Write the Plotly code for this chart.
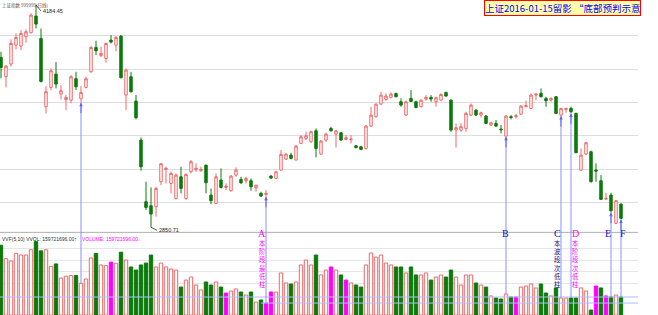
import plotly.graph_objects as go

# ---------------- data (daily, 2015-07-15 .. 2016-01-15, index 0..124) ----------------
opens = [3870, 3754, 3830, 3944, 3938, 3994, 4018, 4118, 3984, 3574,
         3690, 3770, 3650, 3618, 3614, 3742, 3622, 3690, 3784, 3930,
         3880, 3864, 3974, 3944, 3998, 3644, 3754, 3608, 3374, 3004,
         2980, 2974, 3124, 3198, 3114, 3024, 3154, 3024, 3184, 3196,
         3190, 3224, 3044, 2994, 3134, 3090, 3070, 3164, 3138, 3130,
         3130, 3088, 3054, 3048, 3158, 3144, 3194, 3260, 3284, 3254,
         3354, 3384, 3364, 3430, 3290, 3374, 3444, 3410, 3418, 3378,
         3376, 3340, 3334, 3324, 3458, 3514, 3590, 3618, 3630, 3654,
         3604, 3524, 3624, 3604, 3574, 3620, 3630, 3604, 3614, 3660,
         3614, 3434, 3434, 3444, 3524, 3554, 3524, 3518, 3464, 3474,
         3440, 3398, 3514, 3514, 3530, 3574, 3564, 3644, 3654, 3624,
         3614, 3634, 3524, 3558, 3564, 3534, 3194, 3290, 3304, 3194,
         3130, 3020, 3044, 2874, 2990]
highs = [3904, 3824, 3978, 4014, 4034, 4038, 4134, 4184.45, 4044, 3698,
         3804, 3842, 3704, 3644, 3764, 3784, 3698, 3754, 3938, 3970,
         3934, 3958, 4004, 3998, 4004, 3804, 3784, 3644, 3390, 3124,
         3090, 3094, 3234, 3214, 3184, 3174, 3214, 3174, 3254, 3234,
         3214, 3224, 3084, 3174, 3204, 3114, 3164, 3210, 3154, 3154,
         3144, 3104, 3064, 3074, 3164, 3184, 3314, 3294, 3298, 3344,
         3404, 3424, 3430, 3444, 3374, 3418, 3454, 3434, 3424, 3404,
         3404, 3344, 3338, 3464, 3574, 3594, 3664, 3654, 3660, 3658,
         3624, 3610, 3674, 3610, 3618, 3644, 3644, 3634, 3654, 3664,
         3618, 3474, 3474, 3544, 3594, 3558, 3544, 3524, 3484, 3494,
         3464, 3524, 3524, 3530, 3584, 3610, 3654, 3654, 3684, 3634,
         3630, 3638, 3568, 3564, 3574, 3538, 3324, 3364, 3310, 3234,
         3164, 3058, 3058, 3014, 2994]
lows = [3744, 3690, 3814, 3918, 3914, 3958, 4014, 4044, 3720, 3534,
        3674, 3684, 3618, 3554, 3594, 3674, 3598, 3684, 3778, 3884,
        3874, 3838, 3954, 3908, 3744, 3554, 3660, 3498, 3190, 2954,
        2850.71, 2914, 3104, 3114, 3054, 3018, 3054, 3014, 3174, 3184,
        3184, 3054, 2990, 2990, 3084, 3074, 3064, 3154, 3110, 3114,
        3070, 3064, 3034, 3034, 3142, 3144, 3190, 3254, 3258, 3254,
        3350, 3374, 3358, 3270, 3284, 3364, 3424, 3330, 3370, 3374,
        3354, 3324, 3314, 3318, 3454, 3510, 3584, 3610, 3624, 3630,
        3574, 3518, 3604, 3564, 3570, 3610, 3604, 3574, 3610, 3634,
        3424, 3330, 3424, 3424, 3518, 3518, 3510, 3470, 3458, 3454,
        3414, 3394, 3498, 3504, 3524, 3570, 3564, 3614, 3630, 3574,
        3604, 3530, 3518, 3538, 3534, 3296, 3190, 3284, 3120, 3124,
        3014, 3014, 2938, 2870, 2898]
closes = [3810, 3818, 3954, 3990, 4014, 4024, 4124, 4070, 3726, 3664,
          3790, 3710, 3670, 3630, 3754, 3694, 3660, 3742, 3930, 3910,
          3894, 3954, 3962, 3990, 3748, 3794, 3664, 3508, 3214, 2970,
          2930, 3084, 3232, 3204, 3174, 3164, 3084, 3168, 3244, 3204,
          3198, 3118, 3010, 3154, 3090, 3098, 3158, 3194, 3118, 3144,
          3094, 3104, 3038, 3054, 3146, 3184, 3288, 3290, 3264, 3338,
          3394, 3400, 3424, 3324, 3368, 3410, 3430, 3430, 3374, 3388,
          3380, 3330, 3318, 3458, 3524, 3590, 3644, 3638, 3650, 3634,
          3584, 3604, 3606, 3570, 3614, 3630, 3620, 3628, 3648, 3638,
          3434, 3448, 3454, 3534, 3584, 3524, 3538, 3474, 3478, 3458,
          3436, 3518, 3510, 3520, 3578, 3580, 3644, 3650, 3634, 3610,
          3624, 3534, 3564, 3564, 3544, 3298, 3284, 3358, 3124, 3188,
          3018, 3024, 2950, 3010, 2904]
# volume, millions
volumes = [619, 500, 479, 547, 532, 532, 579, 651, 569, 579,
           432, 453, 328, 344, 350, 350, 281, 319, 506, 547,
           444, 438, 469, 459, 557, 488, 426, 399, 444, 461,
           532, 426, 461, 426, 408, 399, 248, 310, 337, 266,
           222, 293, 266, 293, 248, 195, 213, 231, 204, 177,
           204, 115, 133, 106, 204, 204, 373, 284, 275, 293,
           444, 488, 444, 532, 355, 399, 426, 399, 355, 310,
           284, 266, 248, 444, 550, 514, 532, 461, 444, 426,
           426, 373, 426, 355, 355, 373, 310, 337, 355, 337,
           399, 337, 266, 355, 355, 284, 266, 248, 169, 151,
           142, 186, 160, 160, 248, 257, 275, 240, 275, 195,
           169, 240, 151, 151, 151, 151, 240, 213, 44, 257,
           240, 169, 160, 177, 159.721696]
special = [22, 45, 53, 54, 66, 69, 103, 119, 121]   # magenta volume bars
marks = {"A": 53, "B": 101, "C": 112, "D": 114, "E": 122, "F": 124}
first_mark = 16
mark_texts = {"A": "本阶段最低柱", "C": "本波段次低柱", "D": "本阶段次低柱"}

UP = "#f06868"
DN = "#0b7a0b"
MAG = "#ff00ff"
LINE = "#8c8cff"

n = len(opens)
x = list(range(n))

PRICE_RANGE = [2816.45, 4214.45]
VOL_RANGE = [0, 727.6]
XR = [-0.2, 127.4]
XD = 638 / 658
SPLIT = 1 - 233 / 315

def py(px):
    return 1 - px / 315

fig = go.Figure()
fig.add_trace(go.Candlestick(
    x=x, open=opens, high=highs, low=lows, close=closes,
    increasing=dict(line=dict(color=UP, width=1), fillcolor="white"),
    decreasing=dict(line=dict(color=DN, width=1), fillcolor=DN),
    whiskerwidth=0, xaxis="x", yaxis="y", showlegend=False, hoverinfo="skip"))

fill, edge = [], []
for i in range(n):
    if i in special:
        fill.append(MAG); edge.append(MAG)
    elif closes[i] >= opens[i]:
        fill.append("white"); edge.append(UP)
    else:
        fill.append(DN); edge.append(DN)
fig.add_trace(go.Bar(x=x, y=volumes, width=0.68, xaxis="x", yaxis="y2",
                     marker=dict(color=fill, line=dict(color=edge, width=1)),
                     showlegend=False, hoverinfo="skip"))

shapes = []
annotations = []
# panel separator
shapes.append(dict(type="line", xref="paper", yref="paper", x0=0, x1=XD,
                   y0=SPLIT + 0.002, y1=SPLIT + 0.002, line=dict(color="#b0b0b0", width=1)))
# reference volume levels
shapes.append(dict(type="line", xref="x", yref="y2", x0=XR[0], x1=XR[1],
                   y0=volumes[-1], y1=volumes[-1], line=dict(color="#a8c0ff", width=1)))
shapes.append(dict(type="line", xref="x", yref="y2", x0=marks["A"] - 1, x1=XR[1],
                   y0=volumes[marks["A"]], y1=volumes[marks["A"]], line=dict(color="#a8c0ff", width=1)))

for m in [first_mark] + list(marks.values()):
    shapes.append(dict(type="line", xref="x", yref="y", x0=m, x1=m,
                       y0=lows[m], y1=PRICE_RANGE[0], line=dict(color=LINE, width=1)))
    shapes.append(dict(type="line", xref="x", yref="y2", x0=m, x1=m,
                       y0=VOL_RANGE[1], y1=volumes[m], line=dict(color=LINE, width=1)))
    annotations.append(dict(x=m, y=lows[m], xref="x", yref="y", text="", showarrow=True,
                            arrowhead=2, arrowsize=0.7, arrowwidth=1, arrowcolor="#6060ff",
                            ax=0, ay=12))

offs = {"A": -0.8, "B": -0.2, "C": -0.8, "D": 0.8, "E": -0.6, "F": 0.4}
cols = {"A": MAG, "B": "#1010c0", "C": "#1010a0", "D": MAG, "E": "#1010c0", "F": "#1010c0"}
for k, m in marks.items():
    annotations.append(dict(x=m + offs[k], y=py(233), xref="x", yref="paper", text=k,
                            showarrow=False, xanchor="center", yanchor="middle",
                            font=dict(family="Liberation Serif", size=10, color=cols[k])))
    if k in mark_texts:
        chars = "<br>".join(list(mark_texts[k]))
        annotations.append(dict(x=m + offs[k], y=py(237), xref="x", yref="paper", text=chars,
                                showarrow=False, xanchor="center", yanchor="top",
                                font=dict(family="Noto Sans CJK SC", size=6.3,
                                          color="#101080" if k == "C" else MAG)))

# high / low labels
hi_i = highs.index(max(highs))
lo_i = lows.index(min(lows))
annotations.append(dict(x=hi_i, y=highs[hi_i], xref="x", yref="y", text=f"{highs[hi_i]:.2f}",
                        showarrow=True, arrowhead=0, arrowwidth=0.8, arrowcolor="#333",
                        ax=5, ay=6, xanchor="left", yanchor="middle",
                        font=dict(family="Liberation Sans", size=5.5, color="#222")))
annotations.append(dict(x=lo_i, y=lows[lo_i], xref="x", yref="y", text=f"{lows[lo_i]:.2f}",
                        showarrow=True, arrowhead=0, arrowwidth=0.8, arrowcolor="#333",
                        ax=6, ay=3, xanchor="left", yanchor="middle",
                        font=dict(family="Liberation Sans", size=5.5, color="#222")))

# top-left caption
annotations.append(dict(x=0, y=1, xref="paper", yref="paper", text="上证指数 999999(日线)",
                        showarrow=False, xanchor="left", yanchor="top",
                        font=dict(family="Noto Sans CJK SC", size=4.5, color="#555")))
# title box
annotations.append(dict(x=484 / 658, y=1, xref="paper", yref="paper",
                        text="上证2016-01-15留影 “底部预判示意",
                        showarrow=False, xanchor="left", yanchor="top",
                        bgcolor="#ffffa8", bordercolor="#ff0000", borderwidth=1, borderpad=0,
                        font=dict(family="Noto Sans CJK SC", size=9.5, color="#0000ff")))
# volume header
vtxt = f"{volumes[-1] * 1e6:.2f}"
annotations.append(dict(x=0, y=py(239), xref="paper", yref="paper",
                        text=f"VVF(5,10) VVOL: {vtxt}↑", showarrow=False,
                        xanchor="left", yanchor="middle",
                        font=dict(family="Liberation Sans", size=5, color="#333")))
annotations.append(dict(x=80 / 658, y=py(239), xref="paper", yref="paper",
                        text=f"VOLUME: {vtxt}↓", showarrow=False,
                        xanchor="left", yanchor="middle",
                        font=dict(family="Liberation Sans", size=5, color=MAG)))

fig.update_layout(
    width=658, height=315, margin=dict(l=0, r=0, t=0, b=0),
    paper_bgcolor="white", plot_bgcolor="white", boxgap=0.3,
    xaxis=dict(range=XR, domain=[0, XD], showticklabels=False, showgrid=False,
               zeroline=False, showline=False, rangeslider=dict(visible=False), fixedrange=True),
    yaxis=dict(domain=[SPLIT, 1], range=PRICE_RANGE, tickvals=[3000, 3200, 3400, 3600, 3800, 4000],
               showticklabels=False, gridcolor="#dddddd", gridwidth=1, zeroline=False, showline=False),
    yaxis2=dict(domain=[0, SPLIT], range=VOL_RANGE, anchor="x", tickvals=[281, 385, 488, 592],
                showticklabels=False, gridcolor="#e6e6e6", gridwidth=1, zeroline=False, showline=False),
    shapes=shapes, annotations=annotations, showlegend=False,
)
fig.write_html("out.html")
